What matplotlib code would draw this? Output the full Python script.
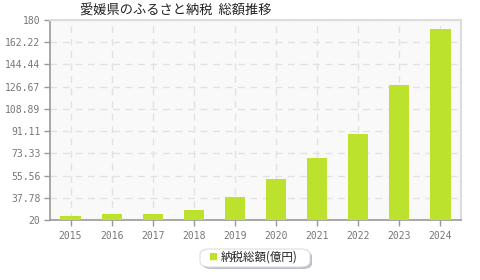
import numpy as np
import matplotlib
matplotlib.use('Agg')
import matplotlib.pyplot as plt
from matplotlib.patches import FancyBboxPatch

plt.rcParams['font.family'] = ['Noto Sans CJK JP', 'DejaVu Sans']

years = ['2015', '2016', '2017', '2018', '2019', '2020', '2021', '2022', '2023', '2024']
values = [23.2, 25.0, 25.0, 28.2, 38.6, 53.0, 69.8, 88.8, 128.0, 173.0]
yticks = [20, 37.78, 55.56, 73.33, 91.11, 108.89, 126.67, 144.44, 162.22, 180]
ylabels = ['20', '37.78', '55.56', '73.33', '91.11', '108.89', '126.67', '144.44', '162.22', '180']

fig = plt.figure(figsize=(4.8, 2.8), dpi=100)
ax = fig.add_axes([50/480, 60/280, 411/480, 200/280])
ax.set_facecolor('#f9f9f9')

x = np.arange(len(years))
ax.bar(x, np.array(values) - 20, bottom=20, width=0.49, color='#bde22e', zorder=3)

ax.set_xlim(-0.5, len(years) - 0.5)
ax.set_ylim(20, 180)
ax.set_xticks(x)
ax.set_xticklabels(years, family='DejaVu Sans Mono')
ax.set_yticks(yticks)
ax.set_yticklabels(ylabels, family='DejaVu Sans Mono')
ax.grid(True, color='#e2e2e2', linestyle=(0, (5, 4)), linewidth=1, zorder=0)

ax.tick_params(axis='both', colors='#999999', labelcolor='#777777', labelsize=7, length=4, width=1)
ax.tick_params(axis='x', pad=4)
ax.tick_params(axis='y', pad=3)
for s in ['left', 'bottom']:
    ax.spines[s].set_color('#999999')
    ax.spines[s].set_linewidth(1.2)
for s in ['right', 'top']:
    ax.spines[s].set_color('#dddddd')
    ax.spines[s].set_linewidth(1.5)

fig.text(80/480, 1 - 11/280, '愛媛県のふるさと納税  総額推移', fontsize=9.5, color='#222222', va='center', ha='left')

# legend box
shadow = FancyBboxPatch((202/480, 11/280), 110/480, 18/280, boxstyle='round,pad=0,rounding_size=0.02',
                        transform=fig.transFigure, facecolor='#bbbbcc', edgecolor='none')
box = FancyBboxPatch((200/480, 13/280), 110/480, 18/280, boxstyle='round,pad=0,rounding_size=0.02',
                     transform=fig.transFigure, facecolor='white', edgecolor='#dddddd', linewidth=0.8)
fig.patches.extend([shadow, box])
fig.text(213/480, 23/280, '■', fontsize=6.5, color='#bde22e', va='center', ha='center')
fig.text(221/480, 23/280, '納税総額(億円)', fontsize=8.3, color='#222222', va='center', ha='left')

fig.savefig('out.png', dpi=100)
